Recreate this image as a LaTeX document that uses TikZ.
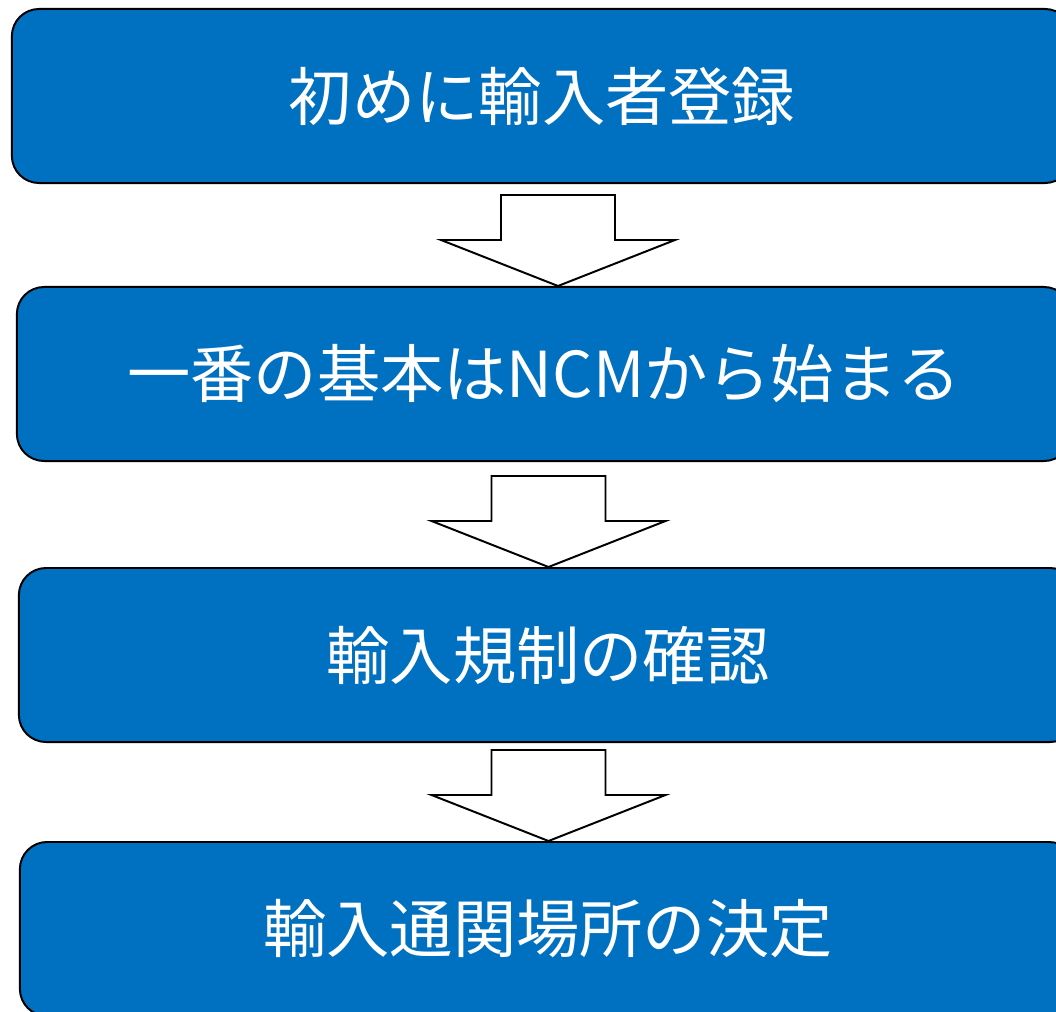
\documentclass[tikz,border=0pt]{standalone}
\usepackage{fontspec}
\usepackage{xcolor}
\usetikzlibrary{calc}
\newfontfamily\jpfont{Noto Sans CJK JP}
\definecolor{stepblue}{RGB}{0,112,192}
\tikzset{
  stepbox/.style = {rectangle, rounded corners=0.68cm, draw=black,
                    fill=stepblue, line width=1.4pt, text=white,
                    minimum width=26.4cm, minimum height=4.35cm,
                    inner sep=0pt, font=\jpfont\fontsize{45}{54}\selectfont},
  blockarrow/.style = {draw=black, fill=white, line width=1.4pt,
                       line join=miter}
}

\begin{document}
\begin{tikzpicture}[x=0.025cm, y=-0.025cm]
	\def \hw{117} % half width of head
	\def \sw{114} % width of shaft
	\def \hl{46}  % length of head
	\def \sl{45}  % length of shaft

	\useasboundingbox (0,0) rectangle (1056,1011);
	\clip (0,0) rectangle (1056,1011);

	% Boxes
	\node[stepbox, minimum width=26.5cm] (reg)    at (542,96)  {初めに輸入者登録};
	\node[stepbox, minimum width=26.35cm] (ncm)   at (544,374) {一番の基本はNCMから始まる};
	\node[stepbox, minimum width=26.45cm] (rule)  at (548,655) {輸入規制の確認};
	\node[stepbox, minimum width=26.4cm] (place)  at (548,929) {輸入通関場所の決定};

	% Arrow tips
	\coordinate (tipA) at ($(ncm.north)+(14,0)$);
	\coordinate (tipB) at ($(rule.north)+(0.5,0)$);
	\coordinate (tipC) at ($(place.north)+(0.5,0)$);

	% Arrows
	\draw[blockarrow] (tipA) -- ++(\hw,-\hl) -- ++(-60,0) -- ++(0,-\sl) -- ++(-\sw,0) -- ++(0,\sl) -- ++(-60,0) -- cycle;
	\draw[blockarrow] (tipB) -- ++(\hw,-\hl) -- ++(-60,0) -- ++(0,-\sl) -- ++(-\sw,0) -- ++(0,\sl) -- ++(-60,0) -- cycle;
	\draw[blockarrow] (tipC) -- ++(\hw,-\hl) -- ++(-60,0) -- ++(0,-\sl) -- ++(-\sw,0) -- ++(0,\sl) -- ++(-60,0) -- cycle;

\end{tikzpicture}
\end{document}
